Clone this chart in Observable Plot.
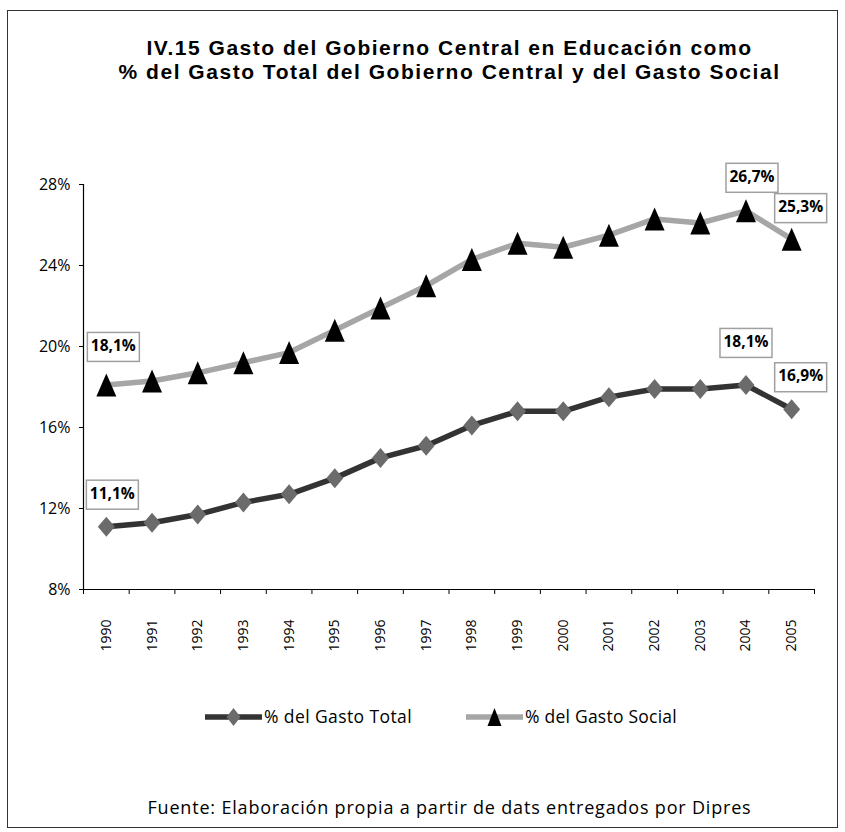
<!DOCTYPE html>
<html>
<head>
<meta charset="utf-8">
<script src="https://cdn.jsdelivr.net/npm/d3@7"></script>
<script src="https://cdn.jsdelivr.net/npm/@observablehq/plot@0.6"></script>
<style>
  body { margin: 0; background: #fff; font-family: "Open Sans", sans-serif; }
  #wrap { position: relative; width: 845px; height: 832px; overflow: hidden; }
  #frame { position: absolute; left: 7px; top: 10px; width: 829px; height: 816px; border: 1.5px solid #333; pointer-events: none; }
  #title { width: 845px; height: 110px; box-sizing: border-box; padding-top: 36px; padding-left: 54px; text-align: center; font-family: "Liberation Sans", Arial, sans-serif; font-weight: 700; font-size: 21px; line-height: 24px; color: #000; }
  #title span { white-space: nowrap; }
  #legend { margin-top: 38px; display: block; }
  #footer { width: 845px; box-sizing: border-box; padding-left: 54px; margin-top: 58px; text-align: center; font-size: 18px; line-height: 24px; color: #000; }
  #footer span { white-space: nowrap; }
</style>
</head>
<body>
<div id="wrap">
  <div id="frame"></div>
  <div id="title"><span id="t1">IV.15 Gasto del Gobierno Central en Educación como</span><br><span id="t2">% del Gasto Total del Gobierno Central y del Gasto Social</span></div>
  <div id="chart"></div>
  <svg id="legend" width="845" height="40"></svg>
  <div id="footer"><span id="fsrc">Fuente: Elaboración propia a partir de dats entregados por Dipres</span></div>
</div>
<script>
// ---- data ----
const years = [1990, 1991, 1992, 1993, 1994, 1995, 1996, 1997, 1998, 1999, 2000, 2001, 2002, 2003, 2004, 2005];
const gastoTotal = [11.1, 11.3, 11.7, 12.3, 12.7, 13.5, 14.5, 15.1, 16.1, 16.8, 16.8, 17.5, 17.9, 17.9, 18.1, 16.9];
const gastoSocial = [18.1, 18.3, 18.7, 19.2, 19.7, 20.8, 21.9, 23.0, 24.3, 25.1, 24.9, 25.5, 26.3, 26.1, 26.7, 25.3];
const yTicks = [8, 12, 16, 20, 24, 28];
const seriesNames = ["% del Gasto Total", "% del Gasto Social"];
const labeledYears = [1990, 2004, 2005];

// ---- derived tables ----
const totalRows = years.map((year, i) => ({year, value: gastoTotal[i]}));
const socialRows = years.map((year, i) => ({year, value: gastoSocial[i]}));
const boundaries = [years[0] - 0.5, ...years.map(y => y + 0.5)];
const fmt = v => v.toFixed(1).replace(".", ",") + "%";

// custom symbols
const diamondSym = { draw(ctx) { const w = 8.5, h = 10; ctx.moveTo(0, -h); ctx.lineTo(w, 0); ctx.lineTo(0, h); ctx.lineTo(-w, 0); ctx.closePath(); } };
const triangleSym = { draw(ctx) { const w = 10, h = 11.5; ctx.moveTo(0, -h); ctx.lineTo(w, h); ctx.lineTo(-w, h); ctx.closePath(); } };

// label offsets (style, not data)
const totalOffsets = {1990: [6, -33], 2004: [0, -43], 2005: [9, -33]};
const socialOffsets = {1990: [7, -39], 2004: [6, -34], 2005: [9, -32]};

const labelMarks = [];
for (const y of labeledYears) {
  const [tdx, tdy] = totalOffsets[y];
  labelMarks.push(Plot.text(totalRows.filter(d => d.year === y), {x: "year", y: "value", text: d => fmt(d.value), dx: tdx, dy: tdy, fontWeight: 700, fontSize: 15.5, fill: "#000"}));
  const [sdx, sdy] = socialOffsets[y];
  labelMarks.push(Plot.text(socialRows.filter(d => d.year === y), {x: "year", y: "value", text: d => fmt(d.value), dx: sdx, dy: sdy, fontWeight: 700, fontSize: 15.5, fill: "#000"}));
}

const chart = Plot.plot({
  width: 845,
  height: 549,
  marginTop: 74,
  marginBottom: 70,
  marginLeft: 83,
  marginRight: 31,
  style: {fontFamily: "Open Sans, sans-serif", fontSize: "16px", color: "#000", background: "transparent"},
  x: {domain: [1989.5, 2005.5], label: null},
  y: {domain: [8, 28], label: null},
  marks: [
    Plot.axisY({ticks: yTicks, tickSize: 4, tickPadding: 9, tickFormat: d => d + "%", fontSize: 16, label: null, stroke: "#000"}),
    Plot.axisX({ticks: boundaries, tickSize: 5, tickFormat: () => "", label: null, stroke: "#000"}),
    Plot.axisX({ticks: years, tickSize: 0, tickPadding: 30, tickRotate: -90, tickFormat: d => String(d), fontSize: 14, label: null}),
    Plot.ruleY([8], {stroke: "#000", strokeWidth: 1.2}),
    Plot.ruleX([1989.5], {stroke: "#000", strokeWidth: 1.2}),
    Plot.line(socialRows, {x: "year", y: "value", stroke: "#a6a6a6", strokeWidth: 5.5}),
    Plot.line(totalRows, {x: "year", y: "value", stroke: "#333333", strokeWidth: 5.5}),
    Plot.dot(totalRows, {x: "year", y: "value", symbol: diamondSym, r: 8, fill: "#6b6b6b", stroke: "none"}),
    Plot.dot(socialRows, {x: "year", y: "value", symbol: triangleSym, r: 8, fill: "#000", stroke: "none"}),
    ...labelMarks
  ]
});
document.getElementById("chart").appendChild(chart);

// boxes behind data labels
const ns = "http://www.w3.org/2000/svg";
const labelRe = /^\d+,\d%$/;
Array.from(chart.querySelectorAll("text")).filter(t => labelRe.test(t.textContent.trim())).forEach(t => {
  const b = t.getBBox();
  const r = document.createElementNS(ns, "rect");
  r.setAttribute("x", b.x - 3.5);
  r.setAttribute("y", b.y - 1.5);
  r.setAttribute("width", b.width + 7);
  r.setAttribute("height", b.height + 7);
  r.setAttribute("fill", "#fff");
  r.setAttribute("stroke", "#a0a0a0");
  r.setAttribute("stroke-width", "1.5");
  const tr = t.getAttribute("transform");
  if (tr) r.setAttribute("transform", tr);
  t.parentNode.insertBefore(r, t);
});

// legend
const lg = d3.select("#legend");
const items = [
  {name: seriesNames[0], x0: 205, x1: 262, stroke: "#333333", sym: "diamond", w: 148},
  {name: seriesNames[1], x0: 466, x1: 523, stroke: "#a6a6a6", sym: "triangle", w: 152}
];
for (const it of items) {
  lg.append("line").attr("x1", it.x0).attr("x2", it.x1).attr("y1", 20).attr("y2", 20).attr("stroke", it.stroke).attr("stroke-width", 5.5);
  const cx = (it.x0 + it.x1) / 2;
  if (it.sym === "diamond") {
    lg.append("path").attr("d", `M${cx},${20 - 9}L${cx + 7},20L${cx},${20 + 9}L${cx - 7},20Z`).attr("fill", "#6b6b6b");
  } else {
    lg.append("path").attr("d", `M${cx},${20 - 9}L${cx + 7},${20 + 9}L${cx - 7},${20 + 9}Z`).attr("fill", "#000");
  }
  const tx = lg.append("text").attr("x", it.x1 + 2).attr("y", 20).attr("dy", "0.35em").attr("font-size", 17.5).attr("font-family", "Open Sans, sans-serif").text(it.name);
  const w = tx.node().getComputedTextLength();
  tx.attr("letter-spacing", Math.max(0, (it.w - w) / it.name.length));
}

// stretch text lines to the reference widths via letter spacing
function fit(id, target) {
  const el = document.getElementById(id);
  const w = el.getBoundingClientRect().width;
  const n = el.textContent.length;
  el.style.letterSpacing = ((target - w) / n) + "px";
}
fit("t1", 606);
fit("t2", 662);
fit("fsrc", 604);
</script>
</body>
</html>
